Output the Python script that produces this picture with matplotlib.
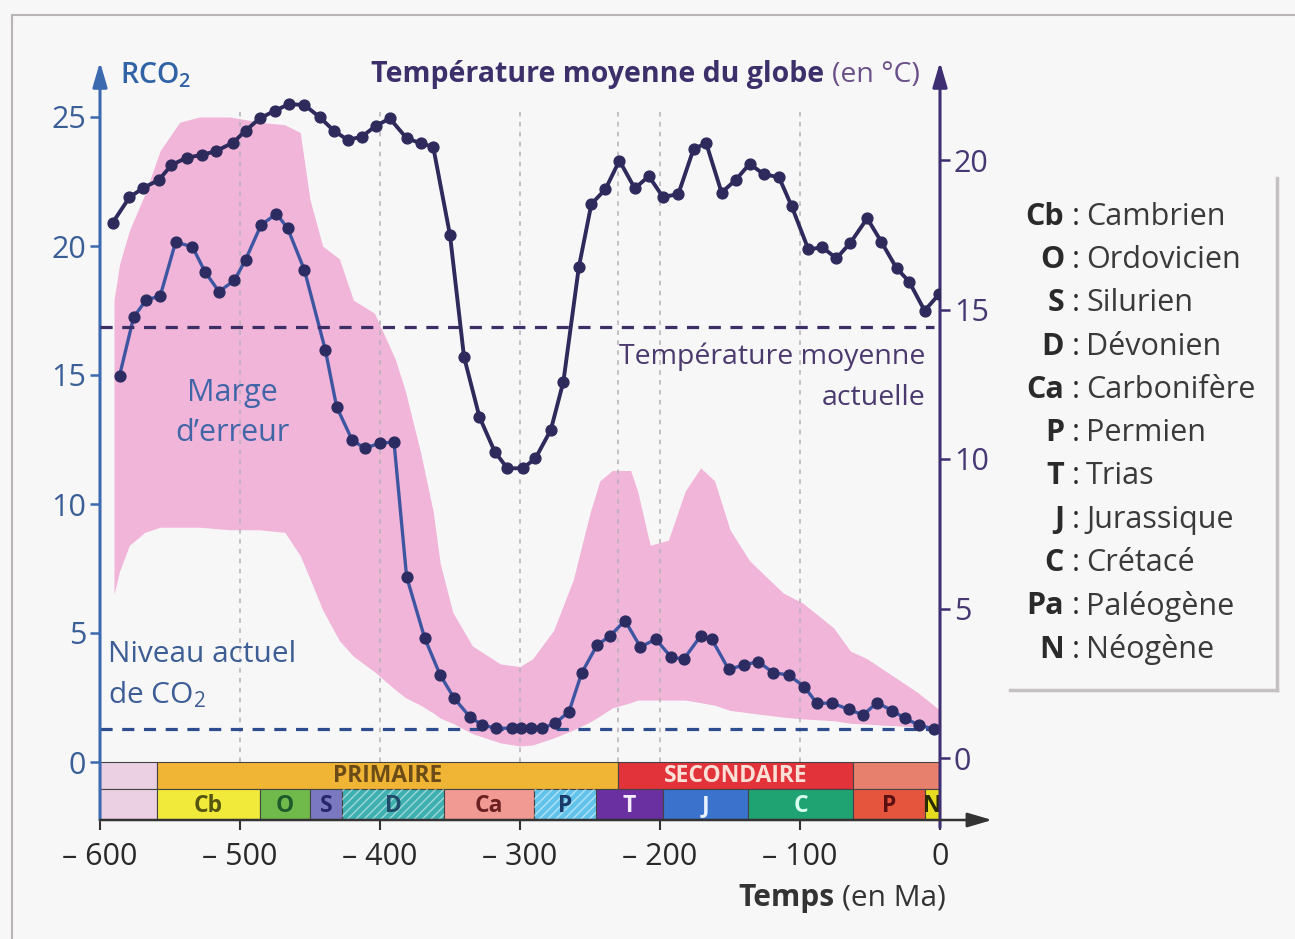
import matplotlib
matplotlib.use('Agg')
import matplotlib.pyplot as plt
from matplotlib.patches import Rectangle
from matplotlib.lines import Line2D

plt.rcParams['font.family'] = ['Open Sans', 'DejaVu Sans']
plt.rcParams['mathtext.fontset'] = 'custom'
plt.rcParams['mathtext.rm'] = 'Open Sans'
plt.rcParams['mathtext.it'] = 'Open Sans:italic'
plt.rcParams['mathtext.bf'] = 'Open Sans:bold'

# ---------------- data ----------------
temp_age = [-591, -579, -569, -558, -549, -538, -527, -517, -505, -496,
            -486, -475, -465, -454, -443, -433, -423, -413, -403, -393,
            -381, -371, -362, -350, -340, -329, -318, -309, -298, -289,
            -278, -269, -258, -249, -239, -229, -218, -208, -198, -187,
            -176, -167, -156, -146, -136, -126, -115, -106, -94, -84,
            -74, -64, -52, -42, -31, -22, -11, -0.5]
temp_val = [17.9, 18.75, 19.07, 19.33, 19.83, 20.08, 20.17, 20.3, 20.58, 20.98,
            21.39, 21.65, 21.87, 21.84, 21.43, 20.98, 20.67, 20.78, 21.14, 21.39,
            20.73, 20.56, 20.44, 17.49, 13.42, 11.41, 10.24, 9.69, 9.69, 10.02,
            10.97, 12.59, 16.41, 18.53, 19.02, 19.98, 19.05, 19.46, 18.77, 18.85,
            20.37, 20.56, 18.91, 19.33, 19.87, 19.53, 19.42, 18.46, 17.01, 17.08,
            16.71, 17.23, 18.05, 17.27, 16.38, 15.93, 14.96, 15.52]

co2_age = [-586, -576, -567, -557, -546, -534, -525, -515, -504, -496,
           -485, -474, -466, -454, -439, -431, -420, -411, -400, -390,
           -381, -368, -357, -347, -336, -327, -317, -306, -299, -292,
           -284, -275, -265, -256, -245, -236, -225, -214, -203, -192,
           -183, -171, -163, -151, -140, -130, -119, -108, -97, -88,
           -77, -65, -55, -45, -34, -25, -15, -4]
co2_val = [14.98, 17.24, 17.91, 18.06, 20.15, 19.97, 19.0, 18.23, 18.67, 19.47,
           20.81, 21.25, 20.69, 19.07, 15.96, 13.77, 12.49, 12.16, 12.36, 12.4,
           7.18, 4.79, 3.37, 2.47, 1.76, 1.43, 1.31, 1.31, 1.31, 1.31,
           1.31, 1.5, 1.95, 3.44, 4.53, 4.87, 5.48, 4.46, 4.76, 4.06,
           3.99, 4.88, 4.76, 3.59, 3.76, 3.89, 3.46, 3.37, 2.92, 2.28,
           2.28, 2.04, 1.82, 2.3, 1.99, 1.69, 1.43, 1.27]

env_age = [-590, -586, -579, -568, -557, -543, -529, -507, -486, -468,
           -457, -450, -441, -429, -419, -404, -389, -382, -371, -362,
           -357, -348, -334, -314, -300, -291, -276, -262, -250, -243,
           -234, -221, -216, -207, -194, -182, -171, -161, -150, -136,
           -112, -98, -76, -64, -52, -41, -16, 0]
env_upper = [17.9, 19.3, 20.6, 22.0, 23.7, 24.8, 25.0, 25.0, 24.8, 24.7,
             24.4, 21.8, 20.0, 19.5, 17.9, 17.4, 15.6, 14.4, 12.0, 9.7,
             7.7, 5.8, 4.5, 3.8, 3.7, 4.0, 5.1, 7.05, 9.65, 10.9,
             11.3, 11.3, 10.5, 8.4, 8.6, 10.5, 11.4, 10.9, 9.0, 7.8,
             6.55, 6.16, 5.2, 4.3, 4.0, 3.6, 2.7, 2.0]
env_lower = [6.5, 7.4, 8.4, 8.9, 9.1, 9.1, 9.1, 9.0, 9.0, 8.9,
             8.0, 7.1, 5.9, 4.7, 4.1, 3.5, 2.8, 2.5, 2.2, 1.9,
             1.7, 1.5, 1.1, 0.74, 0.62, 0.66, 0.93, 1.24, 1.55, 1.78,
             2.1, 2.3, 2.4, 2.4, 2.4, 2.4, 2.3, 2.2, 2.0, 1.9,
             1.74, 1.67, 1.6, 1.5, 1.47, 1.43, 1.36, 1.3]

co2_now = 1.28
temp_now = 14.4

era_labels = ['', 'PRIMAIRE', 'SECONDAIRE', '']
era_start = [-600, -559, -230, -62]
era_end = [-559, -230, -62, 0]
era_colors = ['#ebd0e3', '#f0b535', '#e2323a', '#e8806e']
era_text_colors = ['#333333', '#6b4c18', '#fbe0d8', '#333333']

period_labels = ['', 'Cb', 'O', 'S', 'D', 'Ca', 'P', 'T', 'J', 'C', 'P', 'N']
period_start = [-600, -559, -486, -450, -427, -354, -290, -246, -198, -137, -62, -11]
period_end = [-559, -486, -450, -427, -354, -290, -246, -198, -137, -62, -11, 0]
period_colors = ['#ebd0e3', '#f2ea3a', '#6fba4a', '#7a78c0', '#3fb0b0', '#f19a94',
                 '#62c3ea', '#6a2fa0', '#3a72cc', '#1fa373', '#e5553e', '#e8dc20']
period_text_colors = ['#333333', '#55550f', '#1f5a2a', '#26266a', '#1f4a6a', '#6a2020',
                      '#1a3a6a', '#f4ecfa', '#eaf2ff', '#d6fff0', '#5a1010', '#2a2a00']
period_hatched = [False, False, False, False, True, False, True, False, False, False, False, False]

legend_abbr = ['Cb', 'O', 'S', 'D', 'Ca', 'P', 'T', 'J', 'C', 'Pa', 'N']
legend_names = ['Cambrien', 'Ordovicien', 'Silurien', 'Dévonien', 'Carbonifère', 'Permien',
                'Trias', 'Jurassique', 'Crétacé', 'Paléogène', 'Néogène']

x_ticks = [-600, -500, -400, -300, -200, -100, 0]
x_ticklabels = ['– 600', '– 500', '– 400', '– 300', '– 200', '– 100', '0']
co2_ticks = [0, 5, 10, 15, 20, 25]
temp_ticks = [0, 5, 10, 15, 20]
grid_x = [-500, -400, -300, -230, -200, -100]

# ---------------- styling ----------------
W, H = 1295, 939
BG = '#f8f7f8'
BLUE_AX = '#3b6ab0'
BLUE_TXT = '#3a5f97'
PURPLE = '#3e2f72'
PURPLE_TXT = '#463872'
TEMP_LINE = '#2e2a5c'
CO2_LINE = '#3e56a2'
CO2_MARK = '#2c2c62'
PINK = '#f1b5d9'


def fx(px):
    return px / W


def fy(py):
    return 1 - py / H


fig = plt.figure(figsize=(W / 100, H / 100), dpi=100, facecolor=BG)

ax_left, ax_right_px, ax_bottom_px, ax_top_px = 100, 940, 820, 62
ax = fig.add_axes([fx(ax_left), fy(ax_bottom_px), (ax_right_px - ax_left) / W,
                   (ax_bottom_px - ax_top_px) / H])
ax.set_facecolor('none')
ax2 = ax.twinx()

# pixel to value calibration (CO2: 0 at 762 px, 25.8 px/unit ; temp: 0 at 758 px, 29.9 px/unit)
co2_lo = (762 - ax_bottom_px) / 25.8
co2_hi = (762 - ax_top_px) / 25.8
t_lo = (758 - ax_bottom_px) / 29.9
t_hi = (758 - ax_top_px) / 29.9
ax.set_xlim(-600, 0)
ax.set_ylim(co2_lo, co2_hi)
ax2.set_ylim(t_lo, t_hi)

for a in (ax, ax2):
    for s in a.spines.values():
        s.set_visible(False)

# error envelope
ax.fill_between(env_age, env_lower, env_upper, color=PINK, lw=0, zorder=1)

# vertical dashed guides
for gx in grid_x:
    ax.plot([gx, gx], [0, 25.3], color='#b6b0b8', lw=1.1, ls=(0, (3, 3.5)), zorder=2)

# current levels
ax.plot([-600, 0], [co2_now, co2_now], color='#2d4d8e', lw=2.3, ls=(0, (3.8, 3.0)), zorder=3)
ax2.plot([-600, -4], [temp_now, temp_now], color='#3b2f66', lw=2.3, ls=(0, (3.8, 3.0)), zorder=3)

# series
ax.plot(co2_age, co2_val, color=CO2_LINE, lw=2.4, marker='o', ms=7.8,
        mfc=CO2_MARK, mec=CO2_MARK, zorder=4)
ax2.plot(temp_age, temp_val, color=TEMP_LINE, lw=2.8, marker='o', ms=7.8,
         mfc=TEMP_LINE, mec=TEMP_LINE, zorder=4)

# period bars
row1_top = 0.0
row_mid = (762 - 789) / 25.8
row2_bot = co2_lo
for s, e, c, lab, tc in zip(era_start, era_end, era_colors, era_labels, era_text_colors):
    ax.add_patch(Rectangle((s, row_mid), e - s, row1_top - row_mid, facecolor=c,
                           edgecolor='#444444', lw=0.8, zorder=5))
    if lab:
        ax.text((s + e) / 2, (row1_top + row_mid) / 2, lab, ha='center', va='center',
                fontsize=16.5, fontweight='bold', color=tc, zorder=7)
for s, e, c, lab, tc, hat in zip(period_start, period_end, period_colors, period_labels,
                                  period_text_colors, period_hatched):
    ax.add_patch(Rectangle((s, row2_bot), e - s, row_mid - row2_bot, facecolor=c,
                           edgecolor='#444444', lw=0.8, zorder=5))
    if hat:
        ax.add_patch(Rectangle((s, row2_bot), e - s, row_mid - row2_bot, facecolor='none',
                               edgecolor='#ffffff80', hatch='////', lw=0, zorder=6))
    if lab:
        ax.text((s + e) / 2, (row_mid + row2_bot) / 2 - 0.05, lab, ha='center', va='center',
                fontsize=16.5, fontweight='bold', color=tc, zorder=7)

# axes arrows
arrow_kw = dict(arrowstyle='-|>,head_length=0.75,head_width=0.22', shrinkA=0, shrinkB=0,
                mutation_scale=20)
ax.annotate('', xy=(0, 1.0), xytext=(0, 0), xycoords='axes fraction',
            arrowprops=dict(color=BLUE_AX, lw=2.2, **arrow_kw), zorder=8)
ax.annotate('', xy=(1.0, 1.0), xytext=(1.0, -0.01), xycoords='axes fraction',
            arrowprops=dict(color=PURPLE, lw=2.2, **arrow_kw), zorder=8)
ax.annotate('', xy=(1.062, 0), xytext=(0, 0), xycoords='axes fraction',
            arrowprops=dict(color='#333333', lw=1.8, **arrow_kw), zorder=8)

# ticks
ax.set_xticks(x_ticks)
ax.set_xticklabels(x_ticklabels)
ax.set_yticks(co2_ticks)
ax2.set_yticks(temp_ticks)
ax.tick_params(axis='x', length=7, width=1.5, color='#333333', labelcolor='#2a2a2a',
               labelsize=22, pad=9)
ax.tick_params(axis='y', length=7, width=1.8, color=BLUE_AX, labelcolor=BLUE_TXT,
               labelsize=22, pad=3)
ax2.tick_params(axis='y', length=7, width=1.8, color=PURPLE, labelcolor=PURPLE_TXT,
                labelsize=22, pad=3)

# in-plot annotations
ax.text(-505.7, 14.3, 'Marge', ha='center', va='center', fontsize=22, color='#4066a8', zorder=7)
ax.text(-505.7, 12.75, 'd’erreur', ha='center', va='center', fontsize=22, color='#4066a8', zorder=7)
ax.text(-594.3, 4.15, 'Niveau actuel', ha='left', va='center', fontsize=21.5, color='#3d5d95', zorder=7)
ax.text(-594.3, 2.6, r'de CO$_{\mathregular{2}}$', ha='left', va='center', fontsize=21.5,
        color='#3d5d95', zorder=7)
ax.text(-10.7, 15.7, 'Température moyenne', ha='right', va='center', fontsize=20.5,
        color='#4a3a6e', zorder=7)
ax.text(-10.7, 14.1, 'actuelle', ha='right', va='center', fontsize=20.5,
        color='#4a3a6e', zorder=7)

# header texts
fig.text(fx(120), fy(84), r'RCO$_{\mathregular{2}}$', ha='left', va='baseline', fontsize=20.5,
         fontweight='semibold', color='#2f63a6')

renderer = fig.canvas.get_renderer()


def bold_then_normal(x_right_px, y_base_px, bold, normal, cb, cn, size, gap_px=8):
    t = fig.text(fx(x_right_px), fy(y_base_px), normal, ha='right', va='baseline',
                 fontsize=size, color=cn)
    bb = t.get_window_extent(renderer=renderer)
    fig.text((bb.x0 - gap_px) / W, fy(y_base_px), bold, ha='right', va='baseline',
             fontsize=size, fontweight='bold', color=cb)


bold_then_normal(920, 82, 'Température moyenne du globe', '(en °C)', '#3c2f6a', '#6a5088', 20.5)
bold_then_normal(946, 906, 'Temps', '(en Ma)', '#333333', '#333333', 21.5)

# legend of periods
for i, (ab, nm) in enumerate(zip(legend_abbr, legend_names)):
    y = 216.7 + 43.3 * i
    fig.text(fx(1064), fy(y), ab, ha='right', va='center', fontsize=22, fontweight='bold',
             color='#2a2a2a')
    fig.text(fx(1076), fy(y), ':', ha='center', va='center', fontsize=22, color='#2a2a2a')
    fig.text(fx(1086), fy(y), nm, ha='left', va='center', fontsize=22, color='#3a3a3a')

# decorative frames
fig.add_artist(Line2D([fx(1277), fx(1277)], [fy(178), fy(690)], color='#c4c0c4', lw=2.5))
fig.add_artist(Line2D([fx(1010), fx(1277)], [fy(690), fy(690)], color='#c4c0c4', lw=2.5))
fig.add_artist(Line2D([fx(12), 1.0], [fy(15), fy(15)], color='#b8b4b8', lw=1.5))
fig.add_artist(Line2D([fx(12), fx(12)], [0.0, fy(15)], color='#b8b4b8', lw=1.5))

fig.savefig('out.png', dpi=100, facecolor=BG)
